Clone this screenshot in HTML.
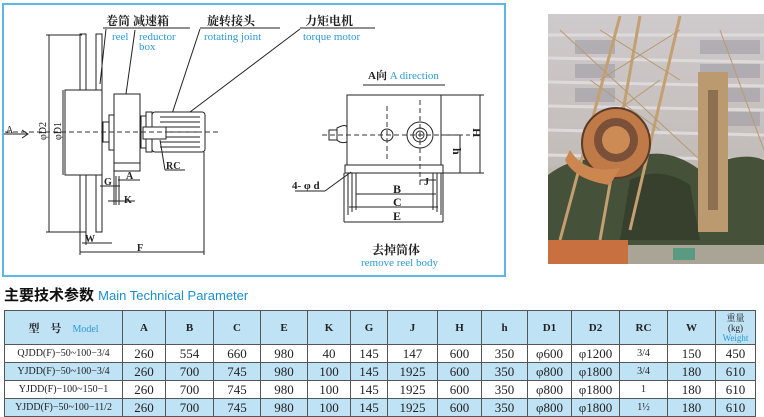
<!DOCTYPE html>
<html><head><meta charset="utf-8">
<style>
body{margin:0;width:764px;height:416px;overflow:hidden;background:#fff;font-family:"Liberation Serif","Noto Serif CJK SC",serif;}
.t{position:absolute;left:4px;top:310px;border-collapse:collapse;table-layout:fixed;}
.t td{border:1px solid #555;text-align:center;padding:0;font-size:13px;color:#222;white-space:nowrap;overflow:hidden;}
.t tr.b td{background:#bfe2f5;}
.t tr.h td{background:#bfe2f5;height:33px;font-weight:bold;font-size:11px;}
.t tr.r td{height:17px;}
.bl{color:#2a9ad6;}
</style></head><body>
<svg width="764" height="310" style="position:absolute;left:0;top:0" xmlns="http://www.w3.org/2000/svg">
<defs>
<linearGradient id="sky" x1="0" y1="0" x2="0" y2="1"><stop offset="0" stop-color="#cfcacc"/><stop offset="0.6" stop-color="#c2bcb8"/><stop offset="1" stop-color="#6c6a55"/></linearGradient>
</defs>
<rect x="3" y="4" width="502" height="272" fill="#fff" stroke="#5cb8e2" stroke-width="2"/>
<g stroke="#222" stroke-width="1" fill="none">
<line x1="103" y1="28" x2="190" y2="28"/>
<line x1="200" y1="28" x2="280" y2="28"/>
<line x1="300" y1="28" x2="375" y2="28"/>
<line x1="106" y1="29" x2="100" y2="84"/>
<line x1="135" y1="30" x2="126" y2="94"/>
<line x1="200" y1="29" x2="166" y2="132"/>
<line x1="300" y1="29" x2="190" y2="112"/>
<line x1="49" y1="35" x2="49" y2="232"/>
<line x1="46" y1="35" x2="82" y2="35"/>
<line x1="46" y1="232" x2="82" y2="232"/>
<rect x="80" y="34" width="6" height="198"/>
<rect x="96" y="34" width="6" height="198"/>
<rect x="65" y="90" width="37" height="85" fill="#fff"/>
<line x1="63" y1="90" x2="63" y2="175"/>
<rect x="103" y="122" width="6" height="20" fill="#fff"/>
<rect x="109" y="115" width="5" height="35" fill="#fff"/>
<rect x="114" y="94" width="26" height="69" fill="#fff"/>
<rect x="114" y="163" width="26" height="8" fill="#fff"/>
<rect x="141" y="116" width="5" height="32" fill="#fff"/>
<rect x="146" y="112" width="6" height="40" fill="#fff"/>
<rect x="152" y="112" width="53" height="40" rx="3" fill="#fff"/>
<line x1="160" y1="117" x2="200" y2="117"/><line x1="160" y1="122" x2="200" y2="122"/><line x1="160" y1="127" x2="200" y2="127"/><line x1="166" y1="132" x2="200" y2="132"/><line x1="160" y1="137" x2="200" y2="137"/><line x1="160" y1="142" x2="200" y2="142"/><line x1="160" y1="147" x2="200" y2="147"/>
<rect x="143" y="127" width="23" height="12" fill="#fff"/>
<line x1="160" y1="140" x2="165" y2="170"/><line x1="165" y1="170" x2="185" y2="170"/>
<line x1="114" y1="171" x2="114" y2="205"/>
<line x1="118" y1="180" x2="140" y2="180"/>
<line x1="100" y1="186" x2="120" y2="186"/>
<line x1="116" y1="176" x2="116" y2="205"/><line x1="119" y1="176" x2="119" y2="205"/>
<line x1="108" y1="201" x2="135" y2="201"/>
<line x1="80" y1="232" x2="80" y2="255"/>
<line x1="86" y1="232" x2="86" y2="245"/>
<line x1="82" y1="243" x2="112" y2="243"/>
<line x1="204" y1="152" x2="204" y2="255"/>
<line x1="80" y1="252" x2="204" y2="252"/>
<line x1="4" y1="134" x2="27" y2="134"/>
<polyline points="22,130 28,134 22,138"/>
<line x1="363" y1="85" x2="445" y2="85"/>
<rect x="347" y="95" width="94" height="70" fill="#fff"/>
<path d="M337 128 Q347 123 347 128 L347 142 Q341 144 337 140 Z" fill="#fff"/>
<rect x="329" y="130" width="8" height="10" fill="#fff"/>
<rect x="345" y="165" width="98" height="8" fill="#fff"/>
<line x1="348" y1="173" x2="348" y2="215"/><line x1="352" y1="173" x2="352" y2="212"/><line x1="356" y1="173" x2="356" y2="210"/>
<line x1="433" y1="173" x2="433" y2="210"/><line x1="437" y1="173" x2="437" y2="212"/><line x1="441" y1="173" x2="441" y2="215"/>
<line x1="356" y1="194" x2="436" y2="194"/>
<line x1="349" y1="207" x2="438" y2="207"/>
<line x1="344" y1="173" x2="344" y2="222"/><line x1="443" y1="173" x2="443" y2="222"/>
<line x1="344" y1="222" x2="443" y2="222"/>
<line x1="441" y1="95" x2="484" y2="95"/><line x1="443" y1="173" x2="484" y2="173"/>
<line x1="480" y1="95" x2="480" y2="173"/>
<line x1="441" y1="135" x2="463" y2="135"/>
<line x1="460" y1="135" x2="460" y2="173"/>
<line x1="420" y1="180" x2="436" y2="180"/>
<line x1="295" y1="191" x2="325" y2="191"/><line x1="325" y1="191" x2="351" y2="172"/>
<circle cx="387" cy="135" r="6" fill="#fff"/>
<circle cx="420" cy="135" r="13" fill="#fff"/>
<circle cx="420" cy="135" r="7"/><circle cx="420" cy="135" r="4"/>
</g>
<g stroke="#333" stroke-width="1" stroke-dasharray="5,3" fill="none">
<line x1="5" y1="132" x2="220" y2="132"/>
<line x1="322" y1="135" x2="470" y2="135"/>
<line x1="387" y1="106" x2="387" y2="162"/>
<line x1="420" y1="100" x2="420" y2="186"/>
</g>
<g font-family="Liberation Serif,'Noto Serif CJK SC',serif" font-size="12" fill="#222">
<text x="106" y="25" font-size="12" font-weight="bold">卷筒 减速箱</text>
<text x="207" y="25" font-weight="bold">旋转接头</text>
<text x="305" y="25" font-weight="bold">力矩电机</text>
<text x="112" y="40" font-size="11" fill="#2a9ad6">reel</text>
<text x="139" y="40" font-size="11" fill="#2a9ad6">reductor</text>
<text x="139" y="50" font-size="11" fill="#2a9ad6">box</text>
<text x="204" y="40" font-size="11" fill="#2a9ad6">rotating  joint</text>
<text x="303" y="40" font-size="11" fill="#2a9ad6">torque  motor</text>
<text x="6" y="133" font-size="10">A</text>
<text transform="translate(46,140) rotate(-90)" font-size="10">φD2</text>
<text transform="translate(61,140) rotate(-90)" font-size="10">φD1</text>
<text x="166" y="169" font-size="10" font-weight="bold">RC</text>
<text x="126" y="179" font-size="10" font-weight="bold">A</text>
<text x="104" y="185" font-size="10" font-weight="bold">G</text>
<text x="124" y="203" font-size="10" font-weight="bold">K</text>
<text x="85" y="242" font-size="10" font-weight="bold">W</text>
<text x="137" y="251" font-size="10" font-weight="bold">F</text>
<text x="368" y="79" font-size="11" font-weight="bold">A向 <tspan fill="#2a9ad6" font-weight="normal">A direction</tspan></text>
<text x="393" y="193" font-size="12" font-weight="bold">B</text>
<text x="393" y="206" font-size="12" font-weight="bold">C</text>
<text x="393" y="220" font-size="12" font-weight="bold">E</text>
<text x="424" y="185" font-size="10" font-weight="bold">J</text>
<text x="292" y="189" font-size="11" font-weight="bold">4- φ d</text>
<text transform="translate(473,128) rotate(90)" font-size="12" font-weight="bold">H</text>
<text transform="translate(453,148) rotate(90)" font-size="12" font-weight="bold">h</text>
<text x="372" y="254" font-size="12" font-weight="bold">去掉筒体</text>
<text x="361" y="266" font-size="11" fill="#2a9ad6">remove reel body</text>
</g>
<g>
<rect x="548" y="14" width="216" height="250" fill="url(#sky)"/>
<g stroke="#dedadc" stroke-width="3">
<line x1="548" y1="35" x2="764" y2="35"/><line x1="548" y1="58" x2="764" y2="62"/><line x1="548" y1="82" x2="764" y2="86"/><line x1="548" y1="106" x2="764" y2="110"/><line x1="548" y1="130" x2="764" y2="135"/><line x1="548" y1="155" x2="764" y2="160"/>
</g>
<g fill="#9896a0" opacity="0.5"><rect x="575" y="40" width="40" height="14"/><rect x="575" y="64" width="40" height="14"/><rect x="575" y="88" width="40" height="14"/><rect x="700" y="40" width="60" height="14"/><rect x="700" y="64" width="60" height="14"/><rect x="700" y="88" width="60" height="14"/><rect x="700" y="112" width="60" height="14"/></g>
<path d="M548 175 Q580 150 620 165 Q660 140 700 170 Q740 150 764 160 L764 250 L548 250 Z" fill="#46513a"/>
<path d="M630 180 Q660 165 690 185 L700 240 L620 240Z" fill="#36402c"/>
<g stroke="#c4a070" stroke-width="3" fill="none">
<line x1="620" y1="16" x2="560" y2="240"/><line x1="640" y1="16" x2="600" y2="240"/>
<line x1="680" y1="16" x2="630" y2="230"/>
</g>
<g stroke="#b89a70" stroke-width="1" fill="none">
<line x1="600" y1="30" x2="680" y2="80"/><line x1="680" y1="30" x2="600" y2="80"/><line x1="590" y1="80" x2="660" y2="130"/><line x1="660" y1="80" x2="590" y2="130"/>
<line x1="560" y1="30" x2="700" y2="160"/><line x1="720" y1="30" x2="764" y2="150"/>
</g>
<ellipse cx="616" cy="143" rx="34" ry="35" fill="#c07a48" stroke="#5a3a28" stroke-width="2"/>
<circle cx="616" cy="140" r="22" fill="#7a5038"/>
<circle cx="616" cy="140" r="14" fill="#cc8a55"/>
<path d="M570 150 Q585 175 620 168 L610 185 Q575 180 565 160Z" fill="#cc8650"/>
<rect x="698" y="72" width="30" height="160" fill="#bc9a70"/>
<rect x="708" y="90" width="10" height="120" fill="#8e7050"/>
<rect x="548" y="240" width="80" height="24" fill="#c87040"/>
<rect x="628" y="245" width="136" height="19" fill="#aaa496"/>
<rect x="673" y="248" width="22" height="12" fill="#5a9a80"/>
</g>
<text x="4" y="300" font-family="'Liberation Sans','Noto Sans CJK SC',sans-serif" font-size="15" font-weight="bold" fill="#111">主要技术参数 <tspan font-size="13" font-weight="normal" fill="#1a8fd0">Main Technical Parameter</tspan></text>
</svg>
<table class="t">
<colgroup><col style="width:118px"><col style="width:43px"><col style="width:48px"><col style="width:47px"><col style="width:47px"><col style="width:43px"><col style="width:37px"><col style="width:50px"><col style="width:44px"><col style="width:46px"><col style="width:44px"><col style="width:48px"><col style="width:48px"><col style="width:48px"><col style="width:40px"></colgroup>
<tr class="h"><td>型　号　<span class="bl" style="font-weight:normal;font-size:10px">Model</span></td><td>A</td><td>B</td><td>C</td><td>E</td><td>K</td><td>G</td><td>J</td><td>H</td><td>h</td><td>D1</td><td>D2</td><td>RC</td><td>W</td><td style="font-size:9px;font-weight:normal;line-height:10px">重量<br>(kg)<br><span class="bl">Weight</span></td></tr>
<tr class="r"><td style="font-size:10px">QJDD(F)−50~100−3/4</td><td>260</td><td>554</td><td>660</td><td>980</td><td>40</td><td>145</td><td>147</td><td>600</td><td>350</td><td>φ600</td><td>φ1200</td><td style="font-size:10px">3/4</td><td>150</td><td>450</td></tr>
<tr class="r b"><td style="font-size:10px">YJDD(F)−50~100−3/4</td><td>260</td><td>700</td><td>745</td><td>980</td><td>100</td><td>145</td><td>1925</td><td>600</td><td>350</td><td>φ800</td><td>φ1800</td><td style="font-size:10px">3/4</td><td>180</td><td>610</td></tr>
<tr class="r"><td style="font-size:10px">YJDD(F)−100~150−1</td><td>260</td><td>700</td><td>745</td><td>980</td><td>100</td><td>145</td><td>1925</td><td>600</td><td>350</td><td>φ800</td><td>φ1800</td><td style="font-size:10px">1</td><td>180</td><td>610</td></tr>
<tr class="r b"><td style="font-size:10px">YJDD(F)−50~100−11/2</td><td>260</td><td>700</td><td>745</td><td>980</td><td>100</td><td>145</td><td>1925</td><td>600</td><td>350</td><td>φ800</td><td>φ1800</td><td style="font-size:10px">1½</td><td>180</td><td>610</td></tr>
</table>
</body></html>
